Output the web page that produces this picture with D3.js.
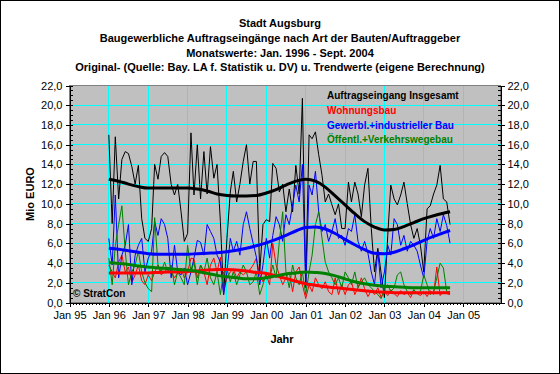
<!DOCTYPE html>
<html>
<head>
<meta charset="utf-8">
<script src="https://cdn.jsdelivr.net/npm/d3@7"></script>
<style>
  body { margin: 0; background: #fff; }
  svg { display: block; font-family: Arial, "Liberation Sans", sans-serif; }
  .axis text { font-size: 11px; fill: #000; }
  .axis path, .axis line { stroke: #000; }
</style>
</head>
<body>
<svg id="chart" width="560" height="374"></svg>
<script>
// monthly values Jan 1996 - Sep 2004 (Mio EURO)
const gesamt = [
  17.0, 8.0, 16.8, 10.5, 14.5, 15.3, 15.1, 13.8, 12.0, 13.9, 8.5, 6.5,
  6.2, 7.5, 14.0, 12.5, 14.8, 15.2, 14.8, 12.0, 10.9, 12.0, 9.2, 6.2,
  7.0, 17.2, 10.9, 16.0, 10.5, 15.3, 11.0, 15.8, 12.6, 14.0, 8.2, 0.8,
  6.5, 11.2, 13.3, 10.2, 12.0, 14.3, 16.0, 12.0, 14.3, 14.3, 3.1, 7.9,
  8.4, 8.2, 14.1, 13.6, 11.2, 12.0, 9.2, 11.5, 9.2, 13.9, 11.0, 20.7,
  1.8, 17.0, 16.6, 17.3, 15.0, 12.9, 10.2, 11.0, 9.9, 8.9, 10.0, 7.5,
  7.5, 12.2, 10.2, 12.2, 11.0, 8.7, 11.9, 13.6, 7.5, 3.1, 5.5, 3.0,
  0.5, 6.8, 11.9, 10.5, 9.9, 10.9, 12.2, 10.0, 7.9, 6.5, 7.5, 5.8,
  3.1, 9.5, 9.8, 11.0, 11.9, 13.9, 10.5, 10.2, 7.9
];
const wohnungsbau = [
  3.8, 3.1, 2.5, 4.1, 4.8, 3.1, 3.6, 2.0, 2.8, 3.8, 2.2, 1.8,
  2.8, 2.2, 3.1, 3.8, 2.8, 3.1, 3.6, 3.1, 2.5, 3.0, 3.5, 2.5,
  3.1, 4.5, 4.4, 2.5, 3.8, 3.1, 1.8, 3.8, 4.5, 3.1, 4.6, 1.1,
  2.5, 3.1, 3.4, 2.5, 3.1, 2.8, 3.1, 3.3, 3.8, 4.5, 2.8, 2.1,
  2.8, 1.8, 6.0, 3.8, 2.8, 1.8, 2.5, 3.1, 1.1, 3.1, 3.6, 1.8,
  0.4, 1.8, 1.1, 2.5, 1.8, 1.4, 2.1, 1.1, 0.8, 2.5, 0.8, 1.8,
  0.8, 1.8, 2.1, 0.8, 1.5, 2.5, 1.4, 0.6, 1.2, 0.8, 1.5, 0.5,
  1.1, 0.7, 1.3, 0.9, 0.6, 1.2, 0.8, 1.0, 0.5, 1.3, 0.9, 0.7,
  1.1, 0.6, 1.2, 0.8, 3.6, 0.7, 1.1, 0.9, 0.8
];
const gewerbl = [
  6.5, 3.8, 10.9, 2.5, 4.8, 5.8, 7.9, 1.8, 4.8, 5.8, 6.5, 3.1,
  4.5, 5.2, 8.2, 6.8, 8.5, 7.9, 6.5, 2.5, 5.8, 3.1, 2.8, 3.5,
  1.8, 3.1, 4.5, 6.3, 6.1, 4.8, 7.9, 7.2, 6.5, 4.8, 4.1, 0.8,
  3.1, 6.5, 5.2, 6.2, 4.8, 7.9, 9.2, 7.5, 6.0, 4.6, 1.8, 3.8,
  6.5, 4.5, 6.8, 8.7, 7.9, 6.2, 8.9, 7.9, 9.9, 11.9, 10.2, 14.0,
  1.5, 11.9, 10.9, 13.3, 9.2, 7.2, 7.9, 6.2, 7.2, 8.5, 6.5, 6.8,
  5.8, 7.5, 7.2, 8.9, 6.2, 5.2, 6.2, 5.0, 3.1, 1.8, 5.2, 1.5,
  3.1, 5.8, 4.8, 8.5, 7.9, 5.8, 6.8, 5.2, 6.2, 5.8, 5.2, 3.8,
  2.5, 6.2, 7.5, 6.5, 8.5, 7.2, 8.9, 7.8, 6.0
];
const oeffentl = [
  4.5, 1.8, 5.8, 7.9, 9.8, 5.2, 1.8, 3.1, 3.8, 5.2, 3.1, 2.0,
  1.4, 1.1, 8.6, 3.8, 3.1, 4.1, 3.1, 3.8, 1.8, 3.1, 2.5, 1.8,
  5.8, 3.1, 4.1, 1.8, 3.8, 3.1, 4.5, 2.5, 1.8, 3.1, 0.8, 3.1,
  3.4, 2.1, 3.1, 1.8, 2.8, 3.8, 3.1, 1.8, 2.1, 3.1, 0.8, 1.8,
  3.1, 2.5, 3.8, 2.5, 6.2, 9.2, 3.1, 1.5, 3.8, 2.5, 1.8, 3.1,
  0.8, 3.1, 4.8, 7.9, 9.2, 6.5, 4.1, 3.1, 2.5, 1.8, 2.5, 1.5,
  3.1, 2.5, 1.8, 3.1, 1.5, 2.1, 2.5, 1.8, 1.5, 1.1, 0.8, 0.4,
  1.5, 1.8, 1.1, 1.5, 2.8, 3.1, 1.8, 1.1, 0.8, 1.3, 0.9, 1.1,
  2.8, 1.8, 0.8, 1.1, 2.5, 4.0, 3.5, 1.1, 1.1
];

// trend values read at these month indices (0 = Jan 1996)
const trendIdx = [0, 3, 6, 9, 12, 15, 18, 21, 24, 27, 30, 33, 36, 39, 42, 45, 48, 51,
  54, 57, 60, 63, 66, 69, 72, 75, 78, 81, 84, 87, 90, 93, 96, 99, 102, 104];
const trendGesamt = [12.5, 12.3, 12.0, 11.75, 11.6, 11.6, 11.6, 11.6, 11.6, 11.5, 11.3, 11.0,
  10.85, 10.8, 10.8, 10.85, 11.1, 11.45, 11.9, 12.3, 12.5, 12.3, 11.7, 10.8,
  9.9, 9.0, 8.2, 7.65, 7.35, 7.4, 7.7, 8.1, 8.5, 8.8, 9.05, 9.2];
const trendWohnung = [3.0, 3.0, 3.0, 3.0, 3.0, 3.05, 3.1, 3.1, 3.15, 3.2, 3.3, 3.35,
  3.35, 3.3, 3.2, 3.05, 2.95, 2.7, 2.45, 2.15, 1.9, 1.75, 1.6, 1.5,
  1.4, 1.3, 1.2, 1.1, 1.05, 1.0, 1.0, 1.0, 1.0, 1.0, 1.0, 1.0];
const trendGewerbl = [5.5, 5.4, 5.25, 5.1, 4.95, 4.9, 4.9, 4.9, 4.9, 4.95, 5.0, 5.05,
  5.15, 5.3, 5.5, 5.75, 6.05, 6.4, 6.8, 7.25, 7.6, 7.65, 7.45, 7.0,
  6.4, 5.85, 5.35, 5.0, 4.95, 5.1, 5.45, 5.85, 6.3, 6.7, 7.05, 7.3];
const trendOeffentl = [4.05, 3.95, 3.85, 3.7, 3.6, 3.5, 3.45, 3.35, 3.3, 3.15, 2.95, 2.75,
  2.6, 2.5, 2.4, 2.4, 2.5, 2.7, 2.9, 3.0, 3.1, 3.05, 2.95, 2.7,
  2.4, 2.1, 1.9, 1.75, 1.65, 1.6, 1.55, 1.5, 1.5, 1.5, 1.5, 1.5];

const titleLines = [
  "Stadt Augsburg",
  "Baugewerbliche Auftragseingänge nach Art der Bauten/Auftraggeber",
  "Monatswerte: Jan. 1996 - Sept. 2004",
  "Original- (Quelle: Bay. LA f. Statistik u. DV) u. Trendwerte (eigene Berechnung)"
];
const legendNames = ["Auftragseingang Insgesamt", "Wohnungsbau",
  "Gewerbl.+industrieller Bau", "Öffentl.+Verkehrswegebau"];
const colors = ["#000000", "#ff0000", "#0000ff", "#008000"];
const yTicks = d3.range(0, 22.1, 2);

const months = d3.timeMonth.range(new Date(1996, 0, 1), new Date(2004, 9, 1));

const svg = d3.select("#chart");
const pLeft = 69.5, pRight = 500.5, pTop = 85.5, pBottom = 302.5;

const x = d3.scaleTime()
  .domain([new Date(1995, 0, 1), new Date(2005, 11, 13)])
  .range([pLeft, pRight]);
const y = d3.scaleLinear().domain([0, 22]).range([pBottom, pTop]);

// outer frame
svg.append("rect")
  .attr("x", 0.5).attr("y", 0.5).attr("width", 559).attr("height", 373)
  .attr("fill", "#fff").attr("stroke", "#000");

// plot area
svg.append("rect")
  .attr("x", pLeft).attr("y", pTop)
  .attr("width", pRight - pLeft).attr("height", pBottom - pTop)
  .attr("fill", "#c0c0c0").attr("stroke", "#808080");

// grid
const grid = svg.append("g").attr("shape-rendering", "crispEdges");
grid.selectAll("line.h")
  .data(yTicks.filter(d => d > 0 && d < 22))
  .enter().append("line")
  .attr("x1", pLeft).attr("x2", pRight)
  .attr("y1", d => y(d)).attr("y2", d => y(d))
  .attr("stroke", "#00ffff");
grid.selectAll("line.v")
  .data(d3.timeYear.range(new Date(1996, 0, 1), new Date(2005, 1, 1)))
  .enter().append("line")
  .attr("x1", d => x(d)).attr("x2", d => x(d))
  .attr("y1", pTop).attr("y2", pBottom)
  .attr("stroke", "#00ffff");

// series
const plot = svg.append("g");
const rawLine = d3.line().x((d, i) => x(months[i])).y(d => y(d));
const trendLine = d3.line()
  .x((d, i) => x(months[trendIdx[i]])).y(d => y(d))
  .curve(d3.curveMonotoneX);

[gesamt, wohnungsbau, gewerbl, oeffentl].forEach(function(s, i) {
  plot.append("path")
    .datum(s)
    .attr("d", rawLine)
    .attr("fill", "none")
    .attr("stroke", colors[i])
    .attr("stroke-width", 1);
});
[trendGesamt, trendWohnung, trendGewerbl, trendOeffentl].forEach(function(s, i) {
  plot.append("path")
    .datum(s)
    .attr("d", trendLine)
    .attr("fill", "none")
    .attr("stroke", colors[i])
    .attr("stroke-width", 3);
});

// axes
const fmt = d => d3.format(".1f")(d).replace(".", ",");
const minorY = d3.range(0, 22.01, 0.5);

svg.append("g").attr("class", "axis")
  .attr("transform", `translate(${pLeft},0)`)
  .call(d3.axisLeft(y).tickValues(yTicks).tickFormat(fmt).tickSizeInner(4).tickSizeOuter(0).tickPadding(3));
svg.append("g").attr("class", "axis")
  .attr("transform", `translate(${pLeft},0)`)
  .call(d3.axisLeft(y).tickValues(minorY).tickFormat("").tickSizeInner(-3).tickSizeOuter(0));

svg.append("g").attr("class", "axis")
  .attr("transform", `translate(${pRight},0)`)
  .call(d3.axisRight(y).tickValues(yTicks).tickFormat(fmt).tickSizeInner(4).tickSizeOuter(0).tickPadding(3));
svg.append("g").attr("class", "axis")
  .attr("transform", `translate(${pRight},0)`)
  .call(d3.axisRight(y).tickValues(minorY).tickFormat("").tickSizeInner(-3).tickSizeOuter(0));

svg.append("g").attr("class", "axis")
  .attr("transform", `translate(0,${pBottom})`)
  .call(d3.axisBottom(x).ticks(d3.timeYear.every(1)).tickFormat(d3.timeFormat("%b %y"))
    .tickSizeInner(4).tickSizeOuter(0).tickPadding(5));
svg.append("g").attr("class", "axis")
  .attr("transform", `translate(0,${pBottom})`)
  .call(d3.axisBottom(x).ticks(d3.timeMonth.every(1)).tickFormat("")
    .tickSizeInner(2).tickSizeOuter(0));

svg.selectAll(".axis line, .axis path").attr("shape-rendering", "crispEdges");

// titles
svg.append("g").selectAll("text")
  .data(titleLines)
  .enter().append("text")
  .attr("x", 280).attr("y", (d, i) => 27 + i * 14.8)
  .attr("text-anchor", "middle")
  .attr("font-size", 11).attr("font-weight", "bold")
  .text(d => d);

svg.append("text")
  .attr("x", 282).attr("y", 343)
  .attr("text-anchor", "middle")
  .attr("font-size", 11).attr("font-weight", "bold")
  .text("Jahr");

svg.append("text")
  .attr("transform", "translate(34,194) rotate(-90)")
  .attr("text-anchor", "middle")
  .attr("font-size", 11).attr("font-weight", "bold")
  .text("Mio EURO");

// legend
svg.append("g").selectAll("text")
  .data(legendNames)
  .enter().append("text")
  .attr("x", 327).attr("y", (d, i) => 99 + i * 14.8)
  .attr("font-size", 10).attr("font-weight", "bold")
  .attr("fill", (d, i) => colors[i])
  .text(d => d);

svg.append("text")
  .attr("x", 73).attr("y", 297)
  .attr("font-size", 10).attr("font-weight", "bold")
  .text("© StratCon");
</script>
</body>
</html>
